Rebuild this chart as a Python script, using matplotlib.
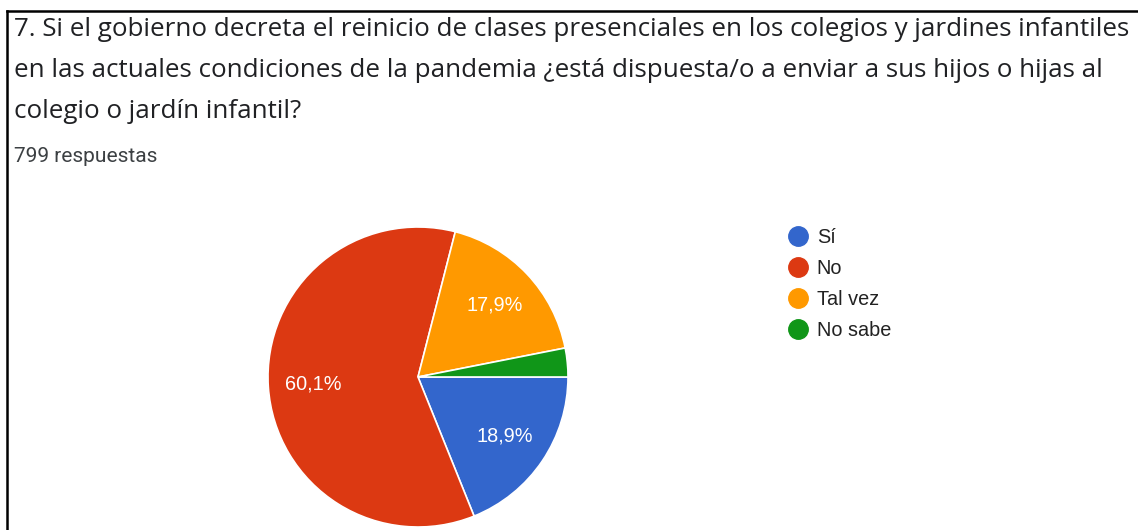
import numpy as np
import matplotlib
matplotlib.use("Agg")
import matplotlib.pyplot as plt
from matplotlib.lines import Line2D

# data
labels = ["Sí", "No", "Tal vez", "No sabe"]
shares = [18.9, 60.1, 17.9, 3.1]
colors = ["#3366CC", "#DC3912", "#FF9900", "#109618"]

title_lines = [
    "7. Si el gobierno decreta el reinicio de clases presenciales en los colegios y jardines infantiles",
    "en las actuales condiciones de la pandemia ¿está dispuesta/o a enviar a sus hijos o hijas al",
    "colegio o jardín infantil?",
]
subtitle = "799 respuestas"

W, H = 1138, 530
fig = plt.figure(figsize=(W / 100, H / 100), dpi=100)
fig.patch.set_facecolor("white")

# axes in pixel units (y measured upward)
ax = fig.add_axes([0, 0, 1, 1])


def fmt(p):
    return f"{p:.1f}%".replace(".", ",") if p >= 5 else ""


wedges, _, autotexts = ax.pie(
    shares, colors=colors, startangle=0, counterclock=False,
    center=(418, H - 377), radius=150, autopct=fmt, pctdistance=0.7,
    wedgeprops=dict(edgecolor="white", linewidth=1.2),
    textprops=dict(color="white", fontsize=14.3, family="Liberation Sans"),
    frame=True,
)
ax.set_xlim(0, W)
ax.set_ylim(0, H)
ax.set_aspect("equal")
ax.axis("off")

# legend
handles = [Line2D([0], [0], marker="o", linestyle="", markersize=14,
                  markerfacecolor=c, markeredgecolor=c) for c in colors]
leg = fig.legend(handles, labels, loc="upper left",
                 bbox_to_anchor=(786 / W, 1 - 228 / H), frameon=False,
                 prop=dict(family="Liberation Sans", size=14.3),
                 labelspacing=0.6, handletextpad=0.35, handlelength=1.2,
                 borderaxespad=0, borderpad=0)
for t in leg.get_texts():
    t.set_color("#222222")

# title and subtitle
for i, line in enumerate(title_lines):
    fig.text(14 / W, 1 - (36 + 41 * i) / H, line, fontsize=18.7,
             family="Open Sans", color="#202124", va="baseline")
fig.text(14 / W, 1 - 162 / H, subtitle, fontsize=15, family="Roboto",
         color="#3c4043", va="baseline")

# screenshot border (top and left)
fig.add_artist(Line2D([7 / W, 1], [1 - 11 / H, 1 - 11 / H], color="black", lw=1.8))
fig.add_artist(Line2D([7 / W, 7 / W], [0, 1 - 11 / H], color="black", lw=1.8))

fig.savefig("out.png", dpi=100)
